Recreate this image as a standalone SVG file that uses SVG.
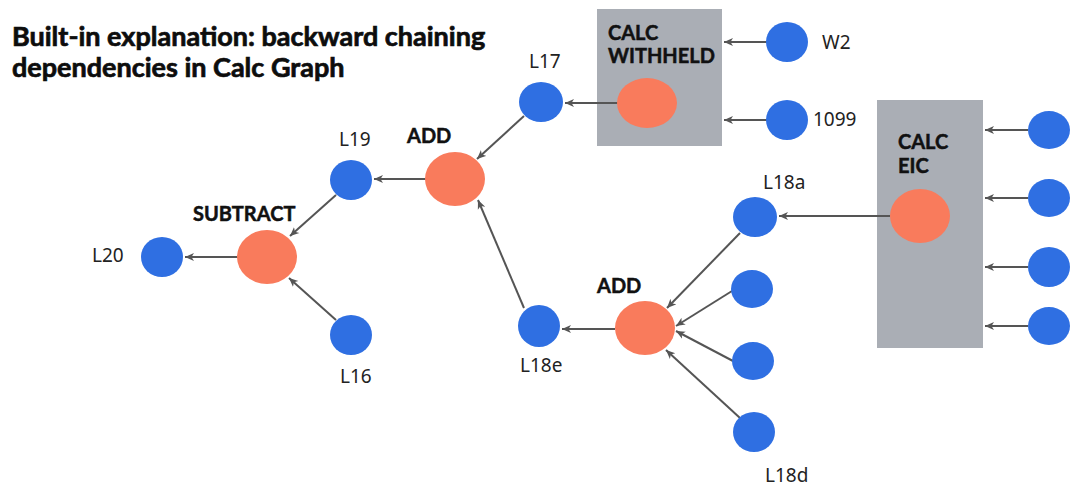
<svg xmlns="http://www.w3.org/2000/svg" width="1071" height="497" viewBox="0 0 1071 497">
  <style>
    .title { font-family: "Lato", "Liberation Sans", sans-serif; font-weight: 700; font-size: 27px; fill: #0d0d0d; stroke: #0d0d0d; stroke-width: 0.7px; }
    .op { font-family: "Lato", "Liberation Sans", sans-serif; font-weight: 700; font-size: 20px; fill: #111; stroke: #111; stroke-width: 0.5px; }
    .lbl { font-family: "Noto Sans", "Open Sans", sans-serif; font-size: 19px; fill: #222; }
    .val { fill: #2F6FE2; }
    .calc { fill: #F97B5C; }
    .box { fill: #AAAEB5; }
    .edge { stroke: #555; stroke-width: 2; fill: none; marker-end: url(#arrow); }
  </style>
  <defs>
    <marker id="arrow" markerUnits="userSpaceOnUse" markerWidth="10" markerHeight="10" refX="9" refY="4.5" orient="auto">
      <path d="M0,0.5 L9,4.5 L0,8.5 L2.5,4.5 z" fill="#555"/>
    </marker>
  </defs>

  <rect width="1071" height="497" fill="#fff"/>

  <g id="title">
    <text class="title" x="12" y="46">Built-in explanation: backward chaining</text>
    <text class="title" x="12" y="77">dependencies in Calc Graph</text>
  </g>

  <!-- grouping boxes -->
  <g id="calc-withheld-box">
    <rect class="box" x="597" y="9" width="125" height="137"/>
    <text class="op" x="608" y="40">CALC</text>
    <text class="op" x="608" y="63">WITHHELD</text>
  </g>
  <g id="calc-eic-box">
    <rect class="box" x="877" y="100" width="106" height="248"/>
    <text class="op" x="898" y="149">CALC</text>
    <text class="op" x="898" y="173">EIC</text>
  </g>

  <g id="connectors">
    <line class="edge" x1="238" y1="257" x2="185" y2="257"/>
    <line class="edge" x1="336" y1="195" x2="290" y2="236"/>
    <line class="edge" x1="336" y1="320" x2="289" y2="278"/>
    <line class="edge" x1="426" y1="179" x2="374" y2="179"/>
    <line class="edge" x1="524" y1="116" x2="477" y2="159"/>
    <line class="edge" x1="524" y1="308" x2="478" y2="200"/>
    <line class="edge" x1="618" y1="103" x2="565" y2="103"/>
    <line class="edge" x1="767" y1="42" x2="724" y2="42"/>
    <line class="edge" x1="767" y1="120" x2="724" y2="120"/>
    <line class="edge" x1="615" y1="329" x2="562" y2="329"/>
    <line class="edge" x1="740" y1="233" x2="667" y2="308"/>
    <line class="edge" x1="732" y1="291" x2="676" y2="326"/>
    <line class="edge" x1="733" y1="361" x2="676" y2="331"/>
    <line class="edge" x1="740" y1="418" x2="666" y2="350"/>
    <line class="edge" x1="890" y1="216" x2="779" y2="216"/>
    <line class="edge" x1="1028" y1="130" x2="985" y2="130"/>
    <line class="edge" x1="1028" y1="198" x2="985" y2="198"/>
    <line class="edge" x1="1028" y1="267" x2="985" y2="267"/>
    <line class="edge" x1="1028" y1="326" x2="985" y2="326"/>
  </g>

  <!-- calculation nodes -->
  <g id="subtract">
    <ellipse class="calc" cx="267" cy="257" rx="30" ry="27"/>
    <text class="op" x="193" y="221">SUBTRACT</text>
  </g>
  <g id="add-top">
    <ellipse class="calc" cx="455" cy="179" rx="30" ry="27"/>
    <text class="op" x="407" y="143">ADD</text>
  </g>
  <g id="add-bottom">
    <ellipse class="calc" cx="645" cy="328" rx="30" ry="27"/>
    <text class="op" x="597" y="293">ADD</text>
  </g>
  <g id="calc-withheld">
    <ellipse class="calc" cx="647" cy="103" rx="30" ry="25"/>
  </g>
  <g id="calc-eic">
    <ellipse class="calc" cx="920" cy="216" rx="30" ry="27"/>
  </g>

  <!-- value nodes -->
  <g id="l20">
    <ellipse class="val" cx="162" cy="257" rx="21" ry="20"/>
    <text class="lbl" x="92" y="262">L20</text>
  </g>
  <g id="l16">
    <ellipse class="val" cx="351" cy="335" rx="21" ry="20"/>
    <text class="lbl" x="340" y="383">L16</text>
  </g>
  <g id="l19">
    <ellipse class="val" cx="351" cy="180" rx="21" ry="20"/>
    <text class="lbl" x="339" y="146">L19</text>
  </g>
  <g id="l17">
    <ellipse class="val" cx="541" cy="102" rx="22" ry="20"/>
    <text class="lbl" x="529" y="68">L17</text>
  </g>
  <g id="w2">
    <ellipse class="val" cx="787" cy="42" rx="21" ry="20"/>
    <text class="lbl" x="822" y="49">W2</text>
  </g>
  <g id="f1099">
    <ellipse class="val" cx="787" cy="120" rx="21" ry="20"/>
    <text class="lbl" x="813" y="126">1099</text>
  </g>
  <g id="l18e">
    <ellipse class="val" cx="539" cy="326" rx="21" ry="21"/>
    <text class="lbl" x="520" y="372">L18e</text>
  </g>
  <g id="l18a">
    <ellipse class="val" cx="755" cy="217" rx="22" ry="20"/>
    <text class="lbl" x="763" y="189">L18a</text>
  </g>
  <g id="l18b">
    <ellipse class="val" cx="752" cy="289" rx="21" ry="19"/>
  </g>
  <g id="l18c">
    <ellipse class="val" cx="753" cy="361" rx="21" ry="19"/>
  </g>
  <g id="l18d">
    <ellipse class="val" cx="754" cy="432" rx="21" ry="20"/>
    <text class="lbl" x="765" y="482">L18d</text>
  </g>
  <g id="eic-in-1">
    <ellipse class="val" cx="1049" cy="130" rx="21" ry="19"/>
  </g>
  <g id="eic-in-2">
    <ellipse class="val" cx="1049" cy="198" rx="21" ry="19"/>
  </g>
  <g id="eic-in-3">
    <ellipse class="val" cx="1049" cy="267" rx="21" ry="20"/>
  </g>
  <g id="eic-in-4">
    <ellipse class="val" cx="1049" cy="326" rx="21" ry="19"/>
  </g>
</svg>
